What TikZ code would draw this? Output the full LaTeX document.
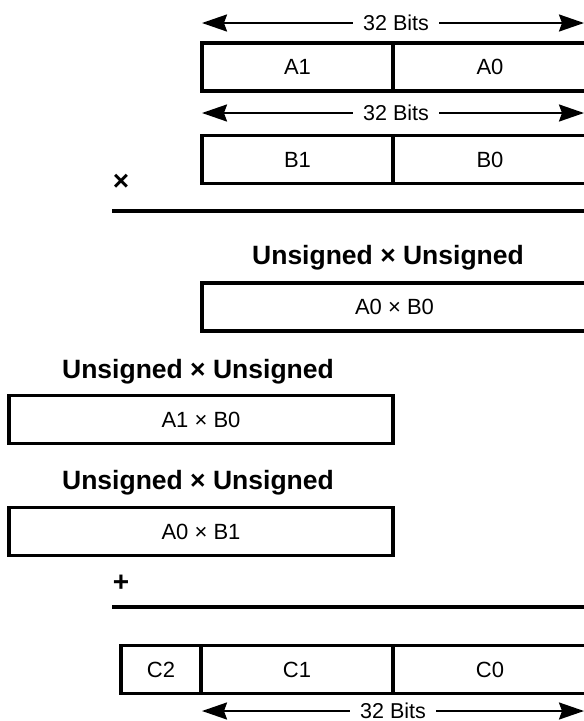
\documentclass[tikz,border=0pt]{standalone}
\usepackage{fontspec}
\setmainfont{Liberation Sans}
\usetikzlibrary{arrows.meta}
\tikzset{
  cell/.style={draw, line width=3.2pt, inner sep=0pt, minimum height=48pt, font=\fontsize{22}{26}\selectfont},
  bitlbl/.style={inner sep=0pt, font=\fontsize{21.5}{26}\selectfont},
  title/.style={inner sep=0pt, font=\fontsize{26.5}{30}\bfseries\selectfont},
  sym/.style={inner sep=0pt, font=\fontsize{28}{32}\bfseries\selectfont},
  dimarrow/.style={line width=2.2pt, -{Stealth[length=25pt,width=17pt,inset=3pt]}},
  rule/.style={line width=3.4pt},
}
\begin{document}
\begin{tikzpicture}[x=1pt,y=-1pt]
\useasboundingbox (0,0) rectangle (584,721);
\clip (0,0) rectangle (584,721);
% top dimension
\node[bitlbl] (bitsA) at (396,23) {32 Bits};
\coordinate (aL) at (202,23);
\coordinate (aR) at (584,23);
\draw[dimarrow] (bitsA.west) ++(-10,0) -- (aL);
\draw[dimarrow] (bitsA.east) ++(10,0) -- (aR);
% A register
\node[cell, minimum width=191pt] (A1) at (297.5,67) {A1};
\node[cell, minimum width=194pt] (A0) at (490,67) {A0};
% second dimension
\node[bitlbl] (bitsB) at (396,113) {32 Bits};
\coordinate (bL) at (202,113);
\coordinate (bR) at (584,113);
\draw[dimarrow] (bitsB.west) ++(-10,0) -- (bL);
\draw[dimarrow] (bitsB.east) ++(10,0) -- (bR);
% B register
\node[cell, minimum width=191pt] (B1) at (297.5,159.5) {B1};
\node[cell, minimum width=194pt] (B0) at (490,159.5) {B0};
% times sign and rule
\node[sym] (times) at (121,182) {×};
\coordinate (r1L) at (112,211);
\coordinate (r1R) at (590,211);
\draw[rule] (r1L) -- (r1R);
% partial products
\node[title] (t1) at (388,258) {Unsigned × Unsigned};
\node[cell, minimum width=385pt] (p1) at (394.5,307) {A0 × B0};
\node[title] (t2) at (198,372) {Unsigned × Unsigned};
\node[cell, minimum width=384pt] (p2) at (201,419.5) {A1 × B0};
\node[title] (t3) at (198,483) {Unsigned × Unsigned};
\node[cell, minimum width=384pt] (p3) at (201,531.5) {A0 × B1};
% plus sign and rule
\node[sym] (plus) at (121,583) {+};
\coordinate (r2L) at (112,607);
\coordinate (r2R) at (590,607);
\draw[rule] (r2L) -- (r2R);
% C result
\node[cell, minimum width=80pt] (C2) at (161,669.5) {C2};
\node[cell, minimum width=192pt] (C1) at (297,669.5) {C1};
\node[cell, minimum width=194pt] (C0) at (490,669.5) {C0};
% bottom dimension
\node[bitlbl] (bitsC) at (393,711) {32 Bits};
\coordinate (cL) at (202,711);
\coordinate (cR) at (584,711);
\draw[dimarrow] (bitsC.west) ++(-10,0) -- (cL);
\draw[dimarrow] (bitsC.east) ++(10,0) -- (cR);
\end{tikzpicture}
\end{document}
